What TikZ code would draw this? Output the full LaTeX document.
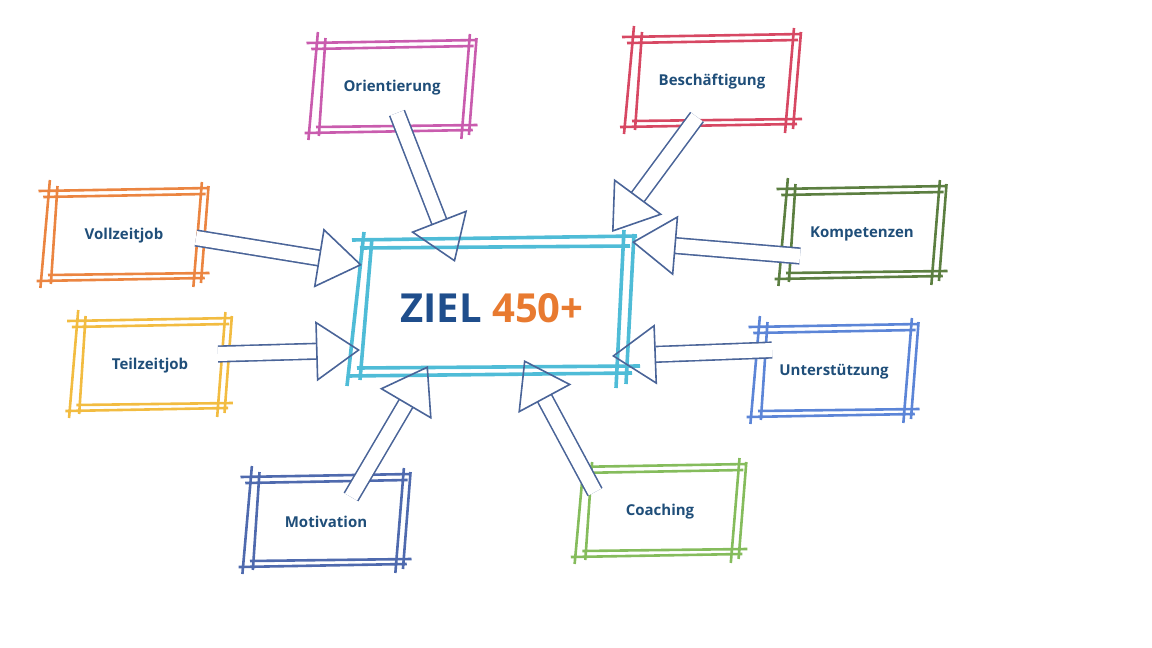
\documentclass[tikz,border=0pt]{standalone}
\usepackage{fontspec}
\setmainfont{Open Sans}
\usetikzlibrary{arrows.meta}
\definecolor{lblc}{HTML}{1F4E79}
\definecolor{arrc}{HTML}{4A6498}
\definecolor{cOri}{HTML}{C040A0}
\definecolor{cBes}{HTML}{D02848}
\definecolor{cVol}{HTML}{E87020}
\definecolor{cKom}{HTML}{406820}
\definecolor{cTei}{HTML}{F0B020}
\definecolor{cUnt}{HTML}{4070D0}
\definecolor{cMot}{HTML}{3050A0}
\definecolor{cCoa}{HTML}{70B040}
\definecolor{cCen}{HTML}{30B0D0}
\definecolor{zblue}{HTML}{1F4E8C}
\definecolor{zor}{HTML}{E87A30}
\tikzset{
 lbl/.style={font=\bfseries\fontsize{7.5}{9}\selectfont,text=lblc,minimum width=80pt,minimum height=45pt},
 skl/.style={line width=1.3pt,opacity=0.85},
 arr/.style={draw=arrc,line width=0.8pt,double=white,double distance=7pt,
   -{Triangle[open,length=22pt,width=30pt,line width=0.8pt]}}
}
\newcommand\skbox[6]{%
 \begin{scope}[shift={(#2,#3)},xscale=#6]
  \draw[skl,#4] (-90,-45)--(90,-48) (-85,-39)--(86,-42)
   (-92,45)--(85,42) (-80,39)--(90,37)
   (-78,-56)--(-88,52) (-70,-50)--(-77,48)
   (82,-54)--(73,51) (89,-50)--(81,47);
 \end{scope}
 \node[lbl] (#1) at (#2,#3) {#5};}
\begin{document}
\begin{tikzpicture}[x=0.5pt,y=-0.5pt]
\useasboundingbox (0,0) rectangle (1152,648);
\skbox{ori}{392}{88}{cOri}{Orientierung}{0.95}
\skbox{bes}{712}{82}{cBes}{Beschäftigung}{1}
\skbox{vol}{124}{236}{cVol}{Vollzeitjob}{0.95}
\skbox{kom}{862}{234}{cKom}{Kompetenzen}{0.95}
\skbox{tei}{150}{366}{cTei}{Teilzeitjob}{0.92}
\skbox{unt}{834}{372}{cUnt}{Unterstützung}{0.95}
\skbox{mot}{326}{522}{cMot}{Motivation}{0.95}
\skbox{coa}{660}{512}{cCoa}{Coaching}{0.97}
% centre box
\begin{scope}[shift={(492,308)}]
 \draw[skl,cCen,line width=1.8pt] (-140,-68)--(145,-72) (-132,-60)--(138,-62)
  (-145,68)--(140,65) (-135,60)--(148,58)
  (-128,-76)--(-145,78) (-120,-70)--(-132,72)
  (132,-78)--(124,80) (142,-74)--(134,76);
\end{scope}
\node[font=\bfseries\fontsize{20}{24}\selectfont] (cen) at (492,308)
 {\textcolor{zblue}{ZIEL} \textcolor{zor}{450+}};
% arrows
\coordinate (tOri) at (455,262);
\coordinate (tBes) at (612,232);
\coordinate (tVol) at (362,265);
\coordinate (tKom) at (632,242);
\coordinate (tTei) at (360,350);
\coordinate (tUnt) at (612,356);
\coordinate (tMot) at (428,366);
\coordinate (tCoa) at (524,360);
\draw[arr] ([shift={(5,25)}]ori.center) -- (tOri);
\draw[arr] ([shift={(-15,35)}]bes.center) -- (tBes);
\draw[arr] ([shift={(72,2)}]vol.center) -- (tVol);
\draw[arr] ([shift={(-62,22)}]kom.center) -- (tKom);
\draw[arr] ([shift={(68,-12)}]tei.center) -- (tTei);
\draw[arr] ([shift={(-62,-22)}]unt.center) -- (tUnt);
\draw[arr] ([shift={(25,-25)}]mot.center) -- (tMot);
\draw[arr] ([shift={(-65,-20)}]coa.center) -- (tCoa);
\end{tikzpicture}
\end{document}
